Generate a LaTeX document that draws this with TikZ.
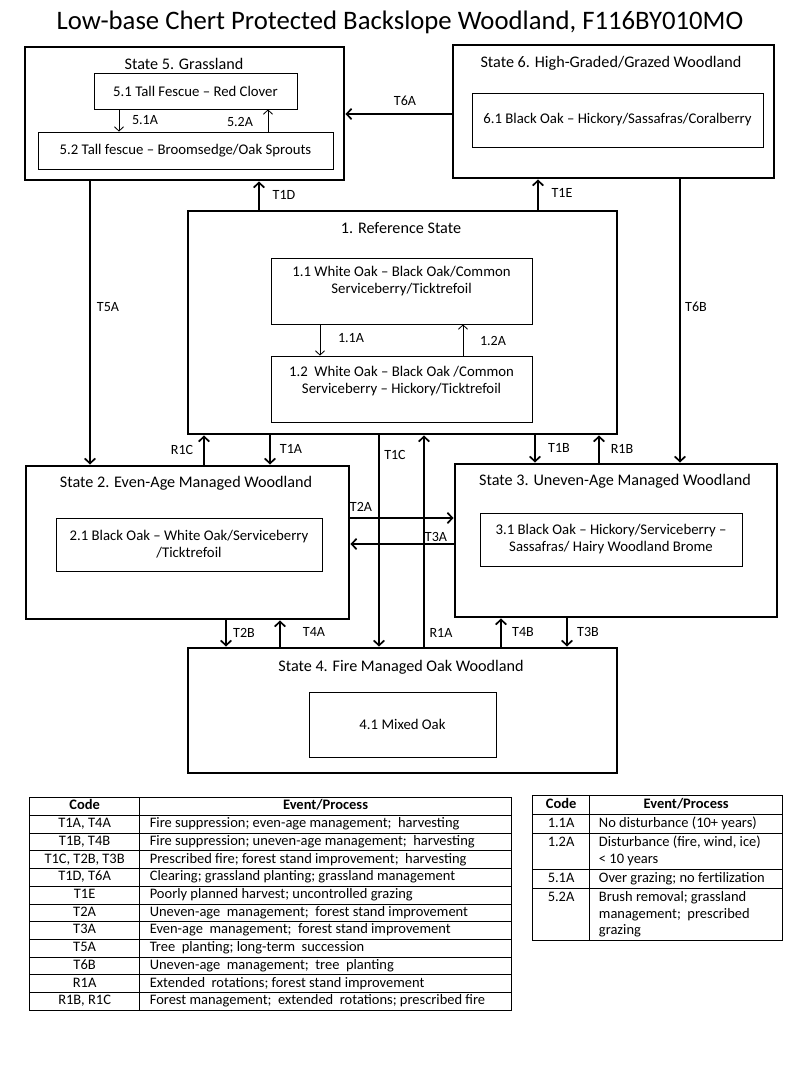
\documentclass[tikz,border=0pt]{standalone}
\usepackage{fontspec}
\setmainfont{Carlito}
\usepackage{array}
\usetikzlibrary{arrows.meta}
\tikzset{
  statebox/.style={draw, line width=2.1pt, inner sep=0pt},
  phasebox/.style={draw, line width=0.6pt, align=center, inner sep=2pt, font=\fontsize{10.5}{12.1}\selectfont},
  boxsize/.style 2 args={minimum width=#1*0.025cm, minimum height=#2*0.025cm},
  statetitle/.style={font=\fontsize{11.5}{13}\selectfont, inner sep=0pt},
  codelabel/.style={font=\fontsize{10}{12}\selectfont, inner sep=0pt},
  bigarrow/.style={line width=1.2pt, -{Straight Barb[length=3.5pt,width=7.5pt]}},
  smallarrow/.style={line width=0.6pt, -{Straight Barb[length=3pt,width=6.5pt]}},
}
\begin{document}
\begin{tikzpicture}[x=0.025cm, y=0.025cm]
\useasboundingbox (0,0) rectangle (800,-1067);
\node[font=\fontsize{19}{22}\selectfont] (title) at (400,-22) {Low-base Chert Protected Backslope Woodland, F116BY010MO};
% state 5
\node[statebox, boxsize={319}{133}] (s5) at (184.5,-113.5) {};
\node[statetitle] (s5t) at (184,-64) {State 5. Grassland};
\node[phasebox, boxsize={203}{36}] (p51) at (195.5,-91) {5.1 Tall Fescue -- Red Clover};
\node[phasebox, boxsize={295}{37}] (p52) at (185.5,-150.5) {5.2 Tall fescue -- Broomsedge/Oak Sprouts};
% state 6
\node[statebox, boxsize={321}{133}] (s6) at (613.5,-111.5) {};
\node[statetitle] (s6t) at (611,-63) {State 6. High-Graded/Grazed Woodland};
\node[phasebox, boxsize={291}{54}] (p61) at (617.5,-120) {6.1 Black Oak -- Hickory/Sassafras/Coralberry};
% state 1
\node[statebox, boxsize={429}{223}] (s1) at (402.5,-322.5) {};
\node[statetitle] (s1t) at (401,-228) {1. Reference State};
\node[phasebox, boxsize={261}{66}, text depth=16pt] (p11) at (401.5,-291) {1.1 White Oak -- Black Oak/Common\\Serviceberry/Ticktrefoil};
\node[phasebox, boxsize={261}{66}, text depth=12.5pt] (p12) at (401.5,-389) {1.2 \ White Oak -- Black Oak /Common\\Serviceberry -- Hickory/Ticktrefoil};
% state 2
\node[statebox, boxsize={323}{153}] (s2) at (187.5,-542.5) {};
\node[statetitle] (s2t) at (186,-483) {State 2. Even-Age Managed Woodland};
\node[phasebox, boxsize={266}{53}] (p21) at (189,-544.5) {2.1 Black Oak -- White Oak/Serviceberry\\/Ticktrefoil};
% state 3
\node[statebox, boxsize={322}{153}] (s3) at (616,-540.5) {};
\node[statetitle] (s3t) at (615,-481) {State 3. Uneven-Age Managed Woodland};
\node[phasebox, boxsize={262}{53}] (p31) at (611,-539.5) {3.1 Black Oak -- Hickory/Serviceberry --\\Sassafras/ Hairy Woodland Brome};
% state 4
\node[statebox, boxsize={429}{125}] (s4) at (402.5,-710.5) {};
\node[statetitle] (s4t) at (401,-667) {State 4. Fire Managed Oak Woodland};
\node[phasebox, boxsize={187}{65}] (p41) at (402.5,-724.5) {4.1 Mixed Oak};
% transitions between states
\draw[bigarrow] (s6.west |- 0,-114) -- (s5.east |- 0,-114);
\node[codelabel] (lT6A) at (405,-101) {T6A};
\draw[bigarrow] (s1.north -| 259,0) -- (s5.south -| 259,0);
\node[codelabel] (lT1D) at (284,-195) {T1D};
\draw[bigarrow] (s1.north -| 538,0) -- (s6.south -| 538,0);
\node[codelabel] (lT1E) at (562,-193) {T1E};
\draw[bigarrow] (s5.south -| 90,0) -- (s2.north -| 90,0);
\node[codelabel] (lT5A) at (108,-307) {T5A};
\draw[bigarrow] (s6.south -| 680,0) -- (s3.north -| 680,0);
\node[codelabel] (lT6B) at (696,-307) {T6B};
\draw[bigarrow] (s2.north -| 204,0) -- (s1.south -| 204,0);
\node[codelabel] (lR1C) at (182,-450) {R1C};
\draw[bigarrow] (s1.south -| 270,0) -- (s2.north -| 270,0);
\node[codelabel] (lT1A) at (291,-449) {T1A};
\draw[bigarrow] (s1.south -| 379,0) -- (s4.north -| 379,0);
\node[codelabel] (lT1C) at (395,-455) {T1C};
\draw[bigarrow] (s4.north -| 424,0) -- (s1.south -| 424,0);
\node[codelabel] (lR1A) at (441,-633) {R1A};
\draw[bigarrow] (s1.south -| 535,0) -- (s3.north -| 535,0);
\node[codelabel] (lT1B) at (559,-448) {T1B};
\draw[bigarrow] (s3.north -| 599,0) -- (s1.south -| 599,0);
\node[codelabel] (lR1B) at (622,-449) {R1B};
\draw[bigarrow] (s2.east |- 0,-518) -- (s3.west |- 0,-518);
\node[codelabel] (lT2A) at (361,-507) {T2A};
\draw[bigarrow] (s3.west |- 0,-544) -- (s2.east |- 0,-544);
\node[codelabel] (lT3A) at (436,-537) {T3A};
\draw[bigarrow] (s2.south -| 226,0) -- (s4.north -| 226,0);
\node[codelabel] (lT2B) at (244,-633) {T2B};
\draw[bigarrow] (s4.north -| 280,0) -- (s2.south -| 280,0);
\node[codelabel] (lT4A) at (314,-632) {T4A};
\draw[bigarrow] (s4.north -| 501,0) -- (s3.south -| 501,0);
\node[codelabel] (lT4B) at (523,-632) {T4B};
\draw[bigarrow] (s3.south -| 567,0) -- (s4.north -| 567,0);
\node[codelabel] (lT3B) at (588,-632) {T3B};
% pathways inside states
\draw[smallarrow] (p51.south -| 119,0) -- (p52.north -| 119,0);
\node[codelabel] (l51A) at (145,-120) {5.1A};
\draw[smallarrow] (p52.north -| 268,0) -- (p51.south -| 268,0);
\node[codelabel] (l52A) at (240,-122) {5.2A};
\draw[smallarrow] (p11.south -| 320,0) -- (p12.north -| 320,0);
\node[codelabel] (l11A) at (351,-338) {1.1A};
\draw[smallarrow] (p12.north -| 463,0) -- (p11.south -| 463,0);
\node[codelabel] (l12A) at (493,-341) {1.2A};
% legends
\node[anchor=north west, inner sep=0pt, font=\fontsize{10.3}{12}\selectfont] (legendT) at (29,-797) {%
\setlength{\tabcolsep}{7pt}\setlength{\arrayrulewidth}{0.6pt}\renewcommand{\arraystretch}{1.0}%
\begin{tabular}{|>{\centering\arraybackslash}p{63.5pt}|>{\raggedright\arraybackslash}p{250pt}|}
\hline
\textbf{Code} & \multicolumn{1}{c|}{\textbf{Event/Process}}\\ \hline
T1A, T4A & Fire suppression; even-age management; \ harvesting\\ \hline
T1B, T4B & Fire suppression; uneven-age management; \ harvesting\\ \hline
T1C, T2B, T3B & Prescribed fire; forest stand improvement; \ harvesting\\ \hline
T1D, T6A & Clearing; grassland planting; grassland management\\ \hline
T1E & Poorly planned harvest; uncontrolled grazing\\ \hline
T2A & Uneven-age \ management; \ forest stand improvement\\ \hline
T3A & Even-age \ management; \ forest stand improvement\\ \hline
T5A & Tree \ planting; long-term \ succession\\ \hline
T6B & Uneven-age \ management; \ tree \ planting\\ \hline
R1A & Extended \ rotations; forest stand improvement\\ \hline
R1B, R1C & Forest management; \ extended \ rotations; prescribed fire\\ \hline
\end{tabular}};
\node[anchor=north west, inner sep=0pt, font=\fontsize{10.3}{12}\selectfont] (legendP) at (532,-795) {%
\setlength{\tabcolsep}{6.4pt}\setlength{\arrayrulewidth}{0.6pt}\renewcommand{\arraystretch}{1.07}%
\begin{tabular}{|>{\centering\arraybackslash}p{27pt}|>{\raggedright\arraybackslash}p{124pt}|}
\hline
\textbf{Code} & \multicolumn{1}{c|}{\textbf{Event/Process}}\\ \hline
1.1A & No disturbance (10+ years)\\ \hline
1.2A & Disturbance (fire, wind, ice)\newline < 10 years\\ \hline
5.1A & Over grazing; no fertilization\\ \hline
5.2A & Brush removal; grassland\newline management; \ prescribed\newline grazing\\ \hline
\end{tabular}};
\end{tikzpicture}
\end{document}
